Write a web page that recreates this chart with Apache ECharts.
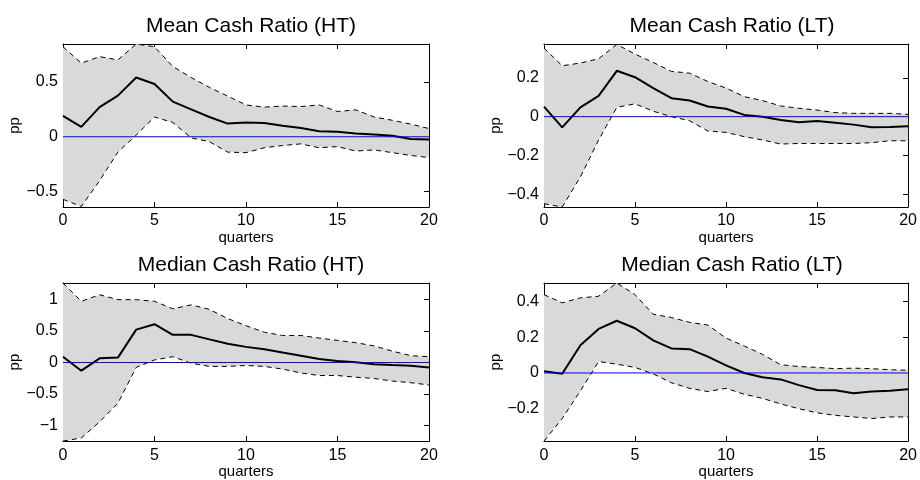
<!DOCTYPE html>
<html><head><meta charset="utf-8">
<script src="https://cdn.jsdelivr.net/npm/echarts@6/dist/echarts.min.js"></script>
<style>html,body{margin:0;padding:0;background:#fff}#c{width:920px;height:480px}</style>
</head><body><div id="c"></div><script>
const quarters = [0,1,2,3,4,5,6,7,8,9,10,11,12,13,14,15,16,17,18,19,20];

const titles = ['Mean Cash Ratio (HT)', 'Mean Cash Ratio (LT)', 'Median Cash Ratio (HT)', 'Median Cash Ratio (LT)'];

// Mean Cash Ratio (HT)
const meanHT_irf = [0.19,0.09,0.27,0.375,0.54,0.48,0.32,0.25,0.18,0.12,0.13,0.125,0.10,0.08,0.05,0.045,0.03,0.02,0.01,-0.02,-0.025];
const meanHT_hi  = [0.82,0.67,0.73,0.70,0.845,0.82,0.64,0.54,0.45,0.37,0.29,0.27,0.28,0.275,0.29,0.23,0.245,0.18,0.15,0.115,0.075];
const meanHT_lo  = [-0.57,-0.635,-0.40,-0.14,0.015,0.18,0.13,-0.01,-0.045,-0.14,-0.145,-0.10,-0.08,-0.065,-0.10,-0.09,-0.13,-0.12,-0.145,-0.17,-0.19];

// Mean Cash Ratio (LT)
const meanLT_irf = [0.052,-0.055,0.048,0.107,0.236,0.203,0.147,0.095,0.083,0.052,0.041,0.009,0.0,-0.017,-0.029,-0.022,-0.031,-0.041,-0.055,-0.053,-0.05];
const meanLT_hi  = [0.353,0.262,0.276,0.298,0.372,0.322,0.279,0.233,0.224,0.181,0.147,0.103,0.083,0.055,0.043,0.034,0.021,0.017,0.017,0.017,0.012];
const meanLT_lo  = [-0.448,-0.465,-0.31,-0.12,0.048,0.066,0.028,0.0,-0.021,-0.074,-0.081,-0.103,-0.12,-0.141,-0.138,-0.138,-0.138,-0.138,-0.134,-0.124,-0.124];

// Median Cash Ratio (HT)
const medHT_irf = [0.093,-0.13,0.067,0.078,0.523,0.61,0.44,0.44,0.368,0.30,0.249,0.212,0.16,0.109,0.057,0.026,0.005,-0.026,-0.041,-0.052,-0.078];
const medHT_hi  = [1.265,0.974,1.078,1.0,1.0,0.974,0.855,0.917,0.845,0.70,0.585,0.482,0.43,0.43,0.389,0.352,0.316,0.264,0.181,0.109,0.093];
const medHT_lo  = [-1.25,-1.20,-0.943,-0.648,-0.078,0.041,0.093,-0.01,-0.062,-0.062,-0.047,-0.062,-0.104,-0.166,-0.207,-0.207,-0.233,-0.254,-0.295,-0.321,-0.357];

// Median Cash Ratio (LT)
const medLT_irf = [0.009,-0.004,0.155,0.246,0.292,0.25,0.182,0.137,0.133,0.091,0.042,0.0,-0.024,-0.036,-0.068,-0.095,-0.097,-0.113,-0.104,-0.10,-0.091];
const medLT_hi  = [0.438,0.392,0.42,0.429,0.503,0.438,0.328,0.31,0.283,0.268,0.195,0.151,0.104,0.046,0.036,0.031,0.024,0.027,0.024,0.018,0.015];
const medLT_lo  = [-0.381,-0.255,-0.10,0.064,0.049,0.031,-0.005,-0.055,-0.086,-0.104,-0.086,-0.119,-0.142,-0.173,-0.20,-0.223,-0.237,-0.246,-0.255,-0.246,-0.246];

// zero reference line (value 0 at every quarter)
const zeroLine = [0,0,0,0,0,0,0,0,0,0,0,0,0,0,0,0,0,0,0,0,0];

const xTicks = [0,5,10,15,20];
const yTicksMeanHT = [-0.5,0,0.5];
const yTicksMeanLT = [-0.4,-0.2,0,0.2];
const yTicksMedHT = [-1,-0.5,0,0.5,1];
const yTicksMedLT = [-0.2,0,0.2,0.4];

const panels = [
  {irf: meanHT_irf, hi: meanHT_hi, lo: meanHT_lo, ticks: yTicksMeanHT, min: -0.64, max: 0.845},
  {irf: meanLT_irf, hi: meanLT_hi, lo: meanLT_lo, ticks: yTicksMeanLT, min: -0.465, max: 0.374},
  {irf: medHT_irf, hi: medHT_hi, lo: medHT_lo, ticks: yTicksMedHT, min: -1.25, max: 1.265},
  {irf: medLT_irf, hi: medLT_hi, lo: medLT_lo, ticks: yTicksMedLT, min: -0.381, max: 0.503}
];

const gridPos = [
  {left: 63, top: 44, width: 366, height: 163},
  {left: 544, top: 44, width: 367, height: 163},
  {left: 63, top: 283, width: 366, height: 162},
  {left: 544, top: 283, width: 367, height: 162}
];
const titlePos = [
  {left: 246, top: 11}, {left: 727, top: 11},
  {left: 246, top: 250}, {left: 727, top: 250}
];

const FONT = 'Liberation Sans, Arial, Helvetica, sans-serif';
const fmt = v => (v < 0 ? '\u2212' + Math.abs(v) : String(v));
const pairs = arr => quarters.map((q, i) => [q, arr[i]]);

const option = {
  animation: false,
  backgroundColor: '#fff',
  title: titles.map((t, i) => ({
    text: t, left: titlePos[i].left, top: titlePos[i].top, textAlign: 'center',
    textStyle: {fontFamily: FONT, fontSize: 21, fontWeight: 'normal', color: '#000'}
  })),
  grid: gridPos.map(g => Object.assign({containLabel: false}, g)),
  xAxis: [], yAxis: [], series: []
};

const mkLine = () => ({show: true, onZero: false, lineStyle: {color: '#000', width: 1}});
const mkTick = extra => Object.assign({show: true, inside: true, length: 5, lineStyle: {color: '#000', width: 1}}, extra || {});

panels.forEach((p, i) => {
  option.xAxis.push({
    gridIndex: i, type: 'value', min: 0, max: 20, interval: 5, position: 'bottom',
    axisLine: mkLine(), axisTick: mkTick(), splitLine: {show: false},
    axisLabel: {fontFamily: FONT, fontSize: 16, color: '#000', margin: 6},
    name: 'quarters', nameLocation: 'middle', nameGap: 21,
    nameTextStyle: {fontFamily: FONT, fontSize: 15, color: '#000'}
  });
  option.xAxis.push({
    gridIndex: i, type: 'value', min: 0, max: 20, interval: 5, position: 'top',
    axisLine: mkLine(), axisTick: mkTick(), splitLine: {show: false}, axisLabel: {show: false}
  });
  option.yAxis.push({
    gridIndex: i, type: 'value', min: p.min, max: p.max, position: 'left',
    axisLine: mkLine(), axisTick: mkTick({customValues: p.ticks}), splitLine: {show: false},
    axisLabel: {customValues: p.ticks, formatter: fmt, fontFamily: FONT, fontSize: 16, color: '#000', margin: 5},
    name: 'pp', nameLocation: 'middle', nameGap: 38, nameRotate: 90,
    nameTextStyle: {fontFamily: FONT, fontSize: 15, color: '#000'}
  });
  option.yAxis.push({
    gridIndex: i, type: 'value', min: p.min, max: p.max, position: 'right',
    axisLine: mkLine(), axisTick: mkTick({customValues: p.ticks}), splitLine: {show: false},
    axisLabel: {show: false}
  });
  const xi = 2 * i, yi = 2 * i;
  // shaded confidence band
  option.series.push({
    type: 'custom', xAxisIndex: xi, yAxisIndex: yi, data: [[0, 0]], clip: true, silent: true, z: 1,
    renderItem: (params, api) => {
      const upper = quarters.map((q, k) => api.coord([q, p.hi[k]]));
      const lower = quarters.map((q, k) => api.coord([q, p.lo[k]])).reverse();
      return {type: 'polygon', shape: {points: upper.concat(lower)}, style: {fill: '#d9d9d9', stroke: null}};
    }
  });
  ['hi', 'lo'].forEach(k => option.series.push({
    type: 'line', xAxisIndex: xi, yAxisIndex: yi, data: pairs(p[k]), symbol: 'none',
    lineStyle: {color: '#000', width: 1, type: [5, 4]}, z: 2, silent: true
  }));
  option.series.push({
    type: 'line', xAxisIndex: xi, yAxisIndex: yi, data: pairs(p.irf), symbol: 'none',
    lineStyle: {color: '#000', width: 2}, z: 3, silent: true
  });
  option.series.push({
    type: 'line', xAxisIndex: xi, yAxisIndex: yi, data: pairs(zeroLine), symbol: 'none',
    lineStyle: {color: '#0000ff', width: 1}, itemStyle: {color: '#0000ff'}, z: 4, silent: true
  });
});

const chart = echarts.init(document.getElementById('c'), null, {renderer: 'canvas'});
chart.setOption(option);
</script></body></html>
